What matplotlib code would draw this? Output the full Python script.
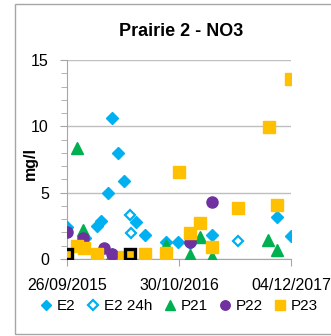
import matplotlib
matplotlib.use("Agg")
import matplotlib.pyplot as plt
import matplotlib.dates as mdates
import pandas as pd
from matplotlib.patches import Rectangle
from matplotlib.ticker import MultipleLocator

plt.rcParams['font.family'] = ['Liberation Sans', 'DejaVu Sans']

# sampling dates and NO3 concentrations (mg/l) per site
e2_dates = ['2015-09-26', '2015-11-28', '2016-01-11', '2016-01-25', '2016-02-19',
            '2016-03-05', '2016-03-26', '2016-04-17', '2016-05-29', '2016-07-01',
            '2016-09-14', '2016-10-27', '2016-12-08', '2017-02-25', '2017-10-15',
            '2017-12-04']
e2_vals = [2.4, 1.6, 2.5, 2.85, 5.0, 10.6, 8.0, 5.9, 2.8, 1.8,
           1.3, 1.3, 1.2, 1.8, 3.2, 1.75]

e2_24h_dates = ['2016-05-08', '2016-05-12', '2017-05-29']
e2_24h_vals = [3.3, 1.95, 1.35]

p21_dates = ['2015-11-01', '2015-11-22', '2016-01-11', '2016-03-05', '2016-09-14',
             '2016-12-08', '2017-01-13', '2017-02-25', '2017-09-13', '2017-10-15']
p21_vals = [8.35, 2.2, 0.1, 0.4, 1.05, 0.3, 1.65, 0.15, 1.45, 0.7]

p22_dates = ['2015-09-26', '2015-11-22', '2016-02-05', '2016-03-05', '2016-04-17',
             '2016-07-01', '2016-12-08', '2017-02-25']
p22_vals = [2.0, 1.6, 0.85, 0.35, 0.1, 0.1, 1.3, 4.3]

p23_dates = ['2015-11-01', '2015-11-25', '2016-01-11', '2016-04-17', '2016-07-01',
             '2016-09-14', '2016-10-30', '2016-12-08', '2017-01-13', '2017-02-25',
             '2017-05-29', '2017-09-16', '2017-10-15', '2017-12-04']
p23_vals = [1.0, 0.8, 0.4, 0.15, 0.35, 0.45, 6.55, 1.95, 2.7, 0.9,
            3.85, 9.95, 4.05, 13.6]

# P23 samples flagged with a black outline
p23_flag_dates = ['2015-09-26', '2016-05-08']
p23_flag_vals = [0.4, 0.4]

tick_dates = ['2015-09-26', '2016-10-30', '2017-12-04']

c_e2 = '#00B0F0'
c_p21 = '#00B050'
c_p22 = '#7030A0'
c_p23 = '#FFC000'

fig = plt.figure(figsize=(3.31, 3.36), dpi=100)
ax = fig.add_axes([67 / 331, 1 - 259 / 336, 224 / 331, 199 / 336])

d = pd.to_datetime
ax.plot(d(e2_dates), e2_vals, ls='none', marker='D', ms=6.2, color=c_e2,
        mec=c_e2, label='E2', zorder=3)
ax.plot(d(e2_24h_dates), e2_24h_vals, ls='none', marker='D', ms=5.6, mfc='white',
        mec=c_e2, mew=1.6, label='E2 24h', zorder=3)
ax.plot(d(p21_dates), p21_vals, ls='none', marker='^', ms=8, color=c_p21,
        label='P21', zorder=3)
ax.plot(d(p22_dates), p22_vals, ls='none', marker='o', ms=8, color=c_p22,
        label='P22', zorder=3)
ax.plot(d(p23_dates), p23_vals, ls='none', marker='s', ms=8, color=c_p23,
        label='P23', zorder=3)
ax.plot(d(p23_flag_dates), p23_flag_vals, ls='none', marker='s', ms=7.5,
        mfc=c_p23, mec='black', mew=2.4, zorder=4)

ax.set_ylim(0, 15)
ax.set_xlim(d(tick_dates[0]), d(tick_dates[-1]))
ax.yaxis.set_major_locator(MultipleLocator(5))
ax.yaxis.set_minor_locator(MultipleLocator(1))
ax.set_xticks(d(tick_dates))
ax.xaxis.set_major_formatter(mdates.DateFormatter('%d/%m/%Y'))

ax.grid(axis='y', which='major', color='#bfbfbf', lw=1)
ax.set_axisbelow(True)
for s in ['top', 'right']:
    ax.spines[s].set_visible(False)
for s in ['left', 'bottom']:
    ax.spines[s].set_color('#a6a6a6')
ax.tick_params(axis='both', which='both', color='#a6a6a6', direction='out')
ax.tick_params(axis='both', which='major', length=5, labelsize=11.5)
ax.tick_params(axis='x', which='major', pad=9)
ax.tick_params(axis='y', which='major', pad=8)
ax.tick_params(axis='y', which='minor', length=4)

ax.set_ylabel('mg/l', fontsize=11.5, fontweight='bold')
ax.yaxis.set_label_coords(-29 / 224, 0.48)
fig.text(181 / 331, 1 - 32 / 336, 'Prairie 2 - NO3', ha='center', va='center',
         fontsize=13, fontweight='bold')

fig.legend(loc='center left', bbox_to_anchor=(40 / 331, 1 - 306 / 336), ncol=5,
           frameon=False, fontsize=11, handlelength=0.8, handletextpad=0.3,
           columnspacing=0.75, markerscale=0.85, borderaxespad=0,
           borderpad=0)

fig.patches.append(Rectangle((15 / 331, 1 - 334 / 336), 1, 330 / 336,
                             transform=fig.transFigure, fill=False,
                             ec='#a6a6a6', lw=1))

fig.savefig('out.png', dpi=100)
